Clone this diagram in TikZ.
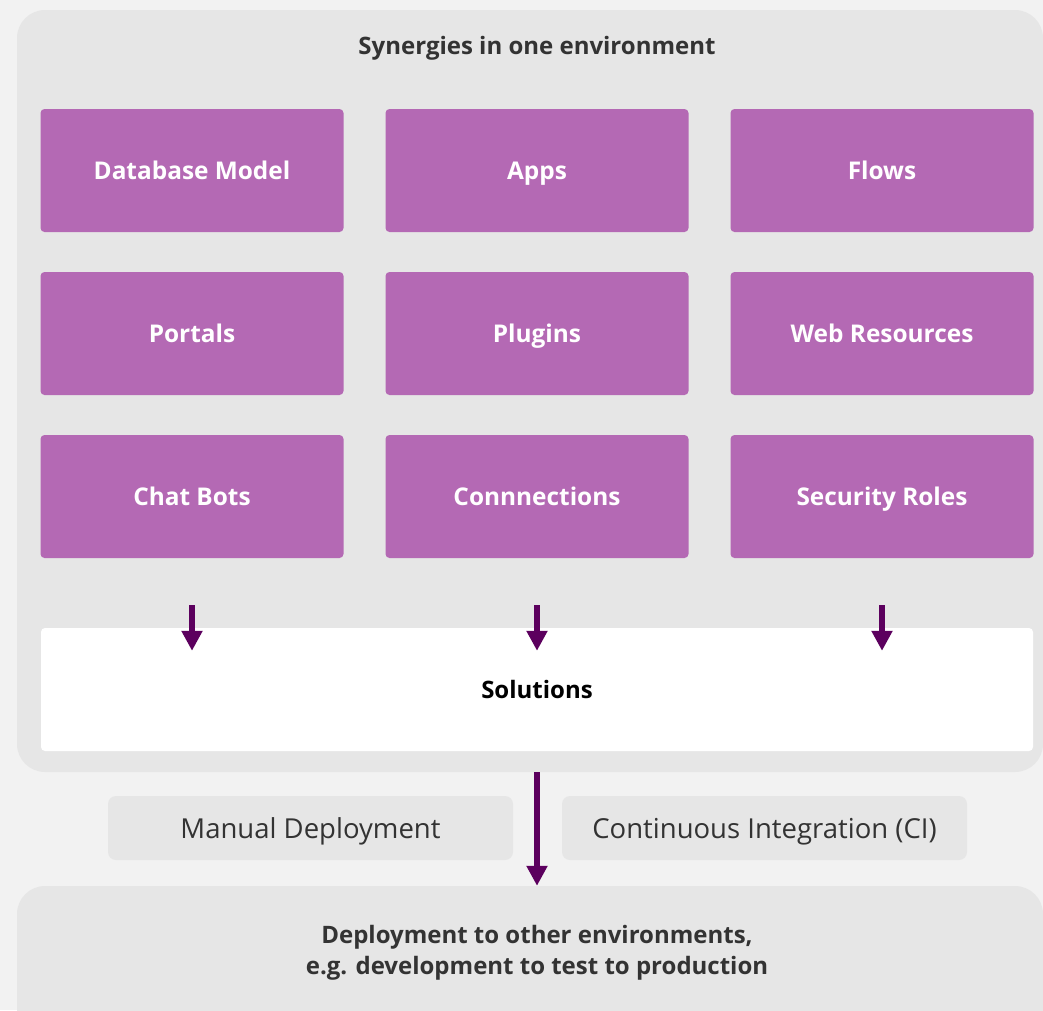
\documentclass[tikz,border=0pt]{standalone}
\usepackage{fontspec}
\setmainfont{Open Sans}
\usetikzlibrary{positioning,arrows.meta}
\definecolor{pagegray}{HTML}{F2F2F2}
\definecolor{envgray}{HTML}{E6E6E6}
\definecolor{compviolet}{HTML}{B469B4}
\definecolor{arrowviolet}{HTML}{5C005E}
\definecolor{textgray}{HTML}{333333}
\begin{document}
\begin{tikzpicture}[x=1pt,y=-1pt,on grid,node distance=163pt and 345pt,
		comp/.style={fill=compviolet,rounded corners=4pt,minimum width=303pt,minimum height=123pt,
			text=white,text height=17pt,text depth=0pt,font=\fontsize{24.4}{29}\selectfont\bfseries},
		panel/.style={fill=envgray,rounded corners=28pt},
		method/.style={fill=envgray,rounded corners=8pt,minimum width=405pt,minimum height=64pt,
			text=textgray,text height=20pt,text depth=0pt,font=\fontsize{27.5}{32}\selectfont},
		flow/.style={line width=6pt,arrowviolet,-{Triangle[width=20pt,length=20pt]}}]
		\useasboundingbox (0,0) rectangle (1043,1010);
		\clip (0,0) rectangle (1043,1010);
		\fill[pagegray] (0,0) rectangle (1043,1010);
		% environment panel
		\node[panel,minimum width=1026pt,minimum height=762pt](env) at (530,391) {};
		\node[text=textgray,font=\fontsize{24}{29}\selectfont\bfseries](title) at (537,48) {Synergies in one environment};
		% components
		\node[comp](db) at (192,170.5) {Database Model};
		\node[comp](apps)[right=of db] {Apps};
		\node[comp](flows)[right=of apps] {Flows};
		\node[comp](portals)[below=of db] {Portals};
		\node[comp](plugins)[right=of portals] {Plugins};
		\node[comp](web)[right=of plugins] {Web Resources};
		\node[comp](bots)[below=of portals] {Chat Bots};
		\node[comp](conn)[right=of bots] {Connnections};
		\node[comp](roles)[right=of conn] {Security Roles};
		\node[fill=white,rounded corners=4pt,minimum width=992pt,minimum height=123pt,
			font=\fontsize{24}{29}\selectfont\bfseries](sol) at (537,689.5) {Solutions};
		\path[flow,shorten <=47pt,shorten >=-23pt]
		(bots.south) edge (bots.south |- sol.north)
		(conn.south) edge (conn.south |- sol.north)
		(roles.south) edge (roles.south |- sol.north);
		% deployment
		\node[method](manual) at (310.5,828) {Manual Deployment};
		\node[method](ci) at (764.5,828) {Continuous Integration (CI)};
		\node[panel,minimum width=1026pt,minimum height=154pt](deploy) at (530,963) {};
		\node[text=textgray,align=center,font=\fontsize{24}{31}\selectfont\bfseries](target) at (537,953)
		{Deployment to other environments,\\e.g. development to test to production};
		\draw[flow] (sol.south |- env.south) -- (sol.south |- deploy.north);
\end{tikzpicture}
\end{document}
